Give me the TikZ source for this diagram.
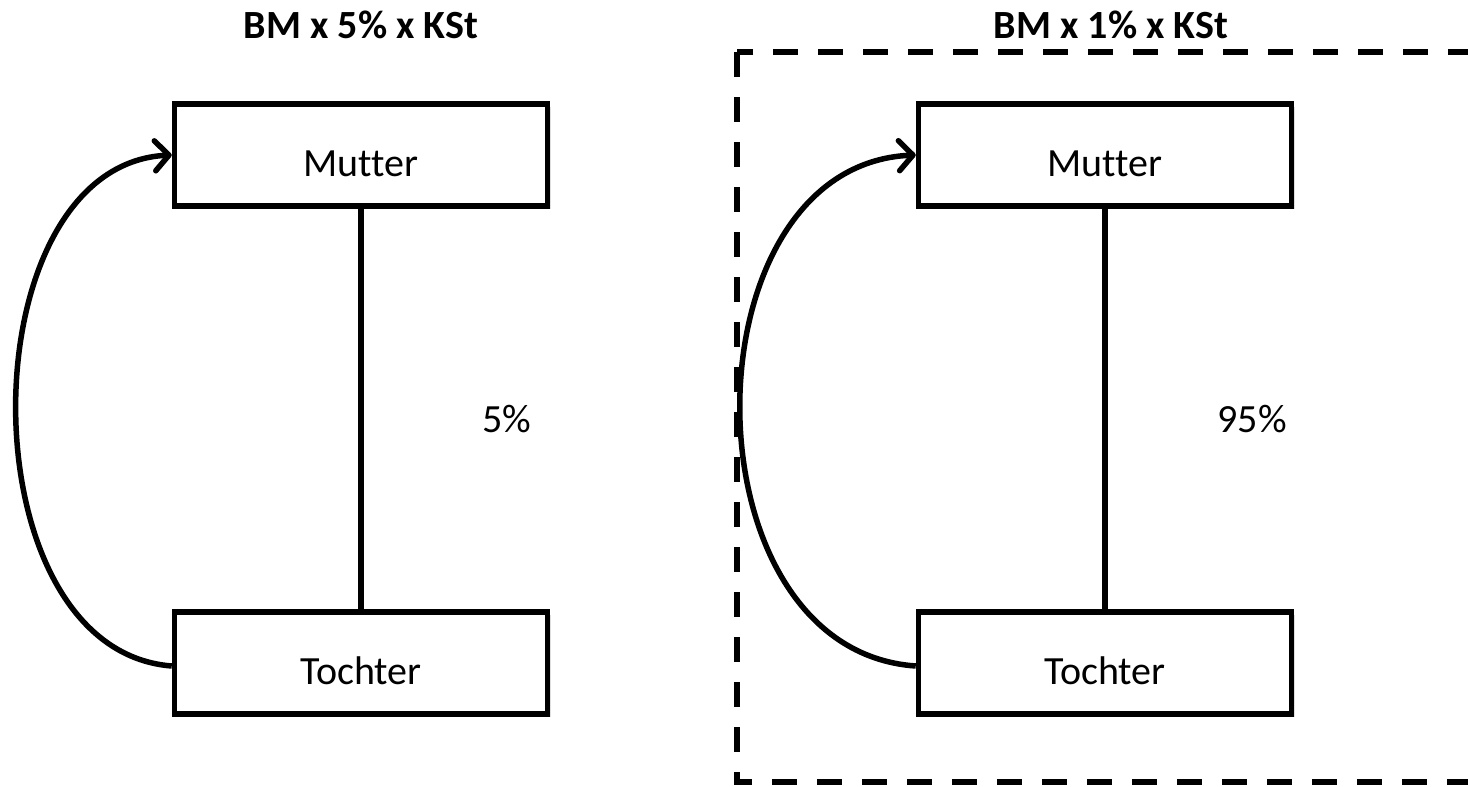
\documentclass[tikz,border=0pt]{standalone}
\usepackage{fontspec}
\setmainfont{Carlito}[Ligatures={NoCommon}]
\usetikzlibrary{arrows.meta,shadows}
\begin{document}
\begin{tikzpicture}[x=1pt,y=-1pt,
  entity/.style={draw=black, line width=5.5pt, fill=white, minimum width=373pt, minimum height=102pt,
    inner sep=0pt, text height=42pt, text depth=0pt, font=\fontsize{40}{44}\selectfont,
    drop shadow={shadow xshift=3pt, shadow yshift=-3pt, opacity=0.25, fill=gray}},
  heading/.style={font=\fontsize{40}{44}\selectfont\bfseries, inner sep=0pt},
  share/.style={font=\fontsize{40}{44}\selectfont, inner sep=0pt},
  link/.style={line width=5.5pt},
  flow/.style={line width=5.5pt, -{Straight Barb[length=14pt, width=30pt, line width=5.5pt, round]}},
  frame/.style={line width=6.5pt, dash pattern=on 25pt off 20pt}]
\useasboundingbox (0,0) rectangle (1468,787);
\clip (0,0) rectangle (1468,787);

% left group
\node[heading] (tl) at (361,25) {BM x 5\% x KSt};
\node[entity] (m1) at (361,155) {Mutter};
\node[entity] (t1) at (361,663) {Tochter};
\draw[link] (m1.south) -- (t1.north);
\node[share] (p1) at (507,419) {5\%};
\coordinate (t1w) at ([yshift=-3pt]t1.west);
\coordinate (m1w) at (m1.west);
\draw[flow] (t1w) .. controls (-37,650) and (-34,165) .. (m1w);

% right group
\draw[frame] (737,52) rectangle (1500,782);
\node[heading] (tr) at (1111,25) {BM x 1\% x KSt};
\node[entity] (m2) at (1105,155) {Mutter};
\node[entity] (t2) at (1105,663) {Tochter};
\draw[link] (m2.south) -- (t2.north);
\node[share] (p2) at (1252,419) {95\%};
\coordinate (t2w) at ([yshift=-3pt]t2.west);
\coordinate (m2w) at (m2.west);
\draw[flow] (t2w) .. controls (681,650) and (683,165) .. (m2w);
\end{tikzpicture}
\end{document}
